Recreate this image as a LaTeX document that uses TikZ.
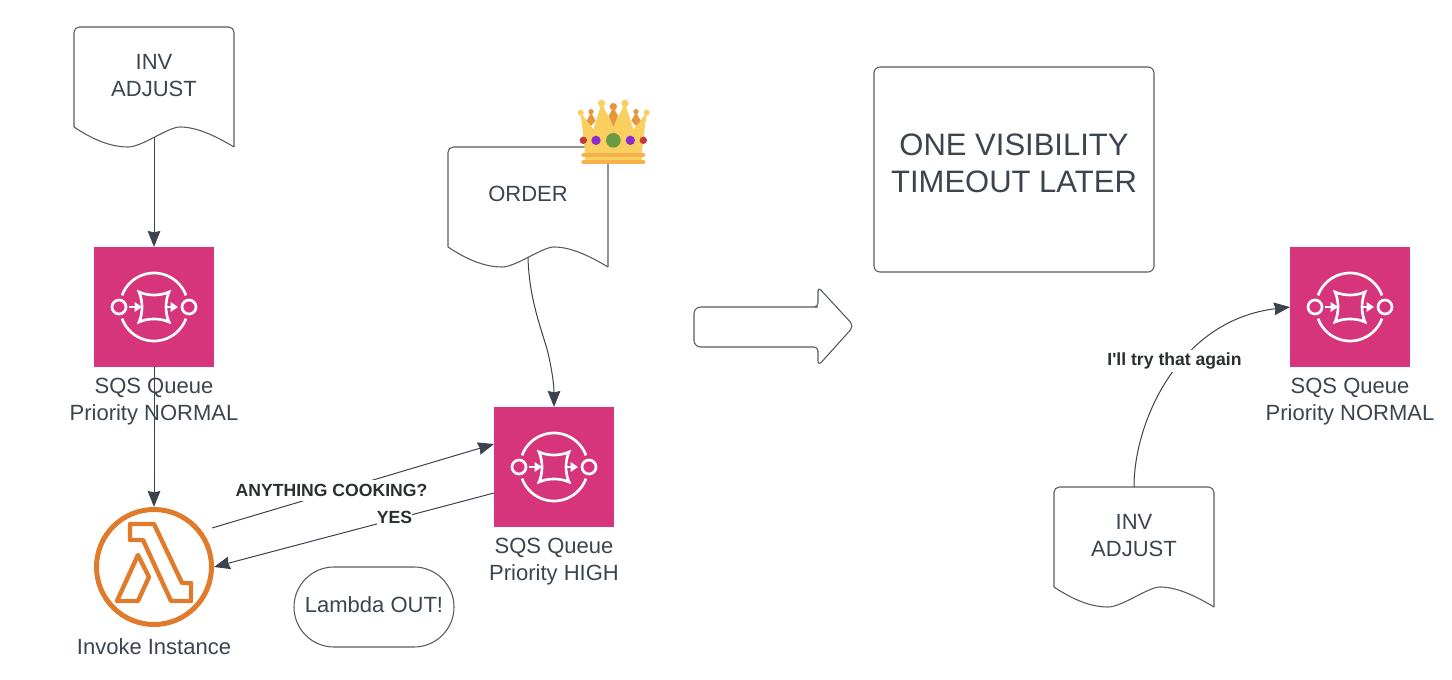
\documentclass[tikz,border=0pt]{standalone}
\usepackage{fontspec}
\setmainfont{Liberation Sans}
\newfontfamily\tagfont{Liberation Sans}
\usetikzlibrary{arrows.meta,calc}
\definecolor{ink}{HTML}{3A434E}
\definecolor{txt}{HTML}{3B4550}
\definecolor{boldtxt}{HTML}{2B2E33}
\definecolor{edge}{HTML}{555B63}
\definecolor{sqs}{HTML}{D6357B}
\definecolor{lam}{HTML}{E07B2C}
\definecolor{cy}{HTML}{F9CF5F}
\definecolor{co}{HTML}{E8963A}
\definecolor{cb}{HTML}{F6B14C}
\definecolor{cr}{HTML}{C8363F}
\definecolor{cp}{HTML}{8E2BD0}
\definecolor{cg}{HTML}{6A9A42}
\tikzset{
  x=0.75pt,y=-0.75pt,
  shape line/.style={draw=edge,line width=0.8pt,line join=round},
  conn/.style={draw=ink,line width=0.75pt,-{Stealth[length=12pt,width=9.5pt,inset=1pt]}},
  label/.style={font=\fontsize{16.5pt}{20.25pt}\selectfont,text=txt,align=center,inner sep=0pt},
  title/.style={font=\fontsize{23.25pt}{27.75pt}\selectfont,text=txt,align=center,inner sep=0pt},
  tag/.style={font=\tagfont\fontsize{13.2pt}{16pt}\selectfont\bfseries,text=boldtxt,fill=white,inner sep=0pt,minimum height=16pt},
  sqsbox/.style={fill=sqs,minimum size=90pt,inner sep=0pt,outer sep=0pt},
  docpic/.pic={
    \draw[shape line,rounded corners=4pt]
      (0,100) -- (0,0) -- (160,0) -- (160,120);
    \draw[shape line] (160,120) .. controls (140,108) and (122,100) .. (106,100)
      .. controls (94,100) and (68,120) .. (54,120)
      .. controls (36,120) and (18,112) .. (0,100);
    \coordinate (-wave) at (80,110);
    \coordinate (-top) at (80,0);
  },
  sqsicon/.pic={
    \begin{scope}[draw=white,line width=2pt]
      \draw (20:34) arc[start angle=20,end angle=160,x radius=34,y radius=34];
      \draw (-20:34) arc[start angle=-20,end angle=-160,x radius=34,y radius=34];
      \draw (-35,0) circle[radius=7];
      \draw (35,0) circle[radius=7];
      \draw[line join=miter,miter limit=3] (-15,-15) .. controls (-6,-11) and (6,-11) .. (15,-15)
        .. controls (11,-6) and (11,6) .. (15,15)
        .. controls (6,11) and (-6,11) .. (-15,15)
        .. controls (-11,6) and (-11,-6) .. (-15,-15) -- cycle;
      \draw[line width=1.9pt,-{Stealth[length=5.5pt,width=7pt,inset=0pt]}] (-25,0) -- (-12,0);
      \draw[line width=1.9pt,-{Stealth[length=5.5pt,width=7pt,inset=0pt]}] (12,0) -- (24,0);
    \end{scope}
  }
}
\begin{document}
\begin{tikzpicture}
\fill[white] (0,0) rectangle (1452,680);
\useasboundingbox (0,0) rectangle (1452,680);

% documents
\pic (d1) at (74,27) {docpic};
\pic (d2) at (448,147) {docpic};
\pic (d3) at (1054,487) {docpic};
\node[label] (d1t) at (154,75.5) {INV\\ADJUST};
\node[label] (d2t) at (528,194) {ORDER};
\node[label] (d3t) at (1134,535.5) {INV\\ADJUST};

% queues
\node[sqsbox] (q1) at (154,307) {};
\node[sqsbox] (q2) at (554,467) {};
\node[sqsbox] (q3) at (1350,307) {};
\pic at (q1) {sqsicon};
\pic at (q2) {sqsicon};
\pic at (q3) {sqsicon};
\node[label] (q1t) at (154,401.5) {SQS Queue\\Priority NORMAL};
\node[label] (q2t) at (554,561.5) {SQS Queue\\Priority HIGH};
\node[label] (q3t) at (1350,401.5) {SQS Queue\\Priority NORMAL};

% lambda
\node[circle,draw=lam,line width=3.75pt,minimum size=86.25pt,inner sep=0pt] (fn) at (154,567) {};
\draw[lam,line width=3.3pt,line join=round]
  (130,524) -- (154,524) -- (182,583) -- (191,583) -- (191,601) -- (171,601) -- (143,540) -- (130,540) -- cycle;
\draw[lam,line width=3.3pt,line join=round]
  (138,555) -- (149,577) -- (138,601) -- (117,601) -- cycle;
\node[label] (fnt) at (154,647) {Invoke Instance};

% other shapes
\node[shape line,rounded corners=30pt,minimum width=120pt,minimum height=60pt,inner sep=0pt,draw=edge] (out) at (374,607) {};
\node[label] (outt) at (374,605) {Lambda OUT!};
\node[shape line,rounded corners=4.5pt,minimum width=210pt,minimum height=153.75pt,inner sep=0pt,draw=edge] (later) at (1014,169.5) {};
\node[title] (latert) at (1014,163.5) {ONE VISIBILITY\\TIMEOUT LATER};
\draw[shape line,rounded corners=5pt] (694,307) -- (811,307) [rounded corners=3pt] -- (818,307) -- (818,287) [rounded corners=4pt] -- (854,326) -- (818,366) [rounded corners=3pt] -- (818,347) [rounded corners=5pt] -- (694,347) -- cycle;

% connectors
\draw[conn] (d1-wave) -- (q1.north);
\draw[conn] (q1.south) -- (fn.north);
\draw[conn] (d2-wave) .. controls (529,300) and (542,330) .. (548,353) .. controls (552,370) and (554,385) .. (q2.north);
\coordinate (askstart) at (212,528);
\coordinate (askend) at ($(q2.west)+(0,-23)$);
\coordinate (yesstart) at ($(q2.west)+(0,26)$);
\draw[conn] (askstart) -- (askend);
\draw[conn] (yesstart) -- (fn.east);
\draw[conn] (d3-top) .. controls (1134,420) and (1180,320) .. (q3.west);

% connector labels
\node[tag] (ask) at (331.5,490.5) {ANYTHING COOKING?};
\node[tag] (yes) at (394.5,517.5) {YES};
\node[tag] (retry) at (1174.5,361) {I'll try that again};

% crown
\begin{scope}[shift={(560,90)},x=0.25pt,y=-0.25pt]
  \fill[cy] (62,68) -- (100,118) -- (125,40) -- (160,108) -- (195,40) -- (220,118) -- (260,68) -- (245,190) -- (75,190) -- cycle;
  \fill[cy] (75,190) rectangle (245,216);
  \fill[co] (80,92) -- (93,68) -- (107,92) -- (93,108) -- cycle;
  \fill[co] (146,78) -- (160,52) -- (174,78) -- (160,110) -- cycle;
  \fill[co] (214,92) -- (228,68) -- (242,92) -- (228,108) -- cycle;
  \fill[co] (93,65) circle[radius=8];
  \fill[co] (160,50) circle[radius=11];
  \fill[co] (228,65) circle[radius=8];
  \fill[cy] (62,68) circle[radius=9];
  \fill[cy] (125,40) circle[radius=11];
  \fill[cy] (195,40) circle[radius=11];
  \fill[cy] (260,68) circle[radius=9];
  \fill[cr] (70,151) circle[radius=11];
  \fill[cp] (108,151) circle[radius=14];
  \fill[cg] (160,151) circle[radius=22];
  \fill[cp] (211,151) circle[radius=14];
  \fill[cr] (250,151) circle[radius=11];
  \draw[cb,line width=3pt,line cap=round] (70,196) -- (250,196);
  \draw[cb,line width=3pt,line cap=round] (70,217) -- (250,217);
\end{scope}
\end{tikzpicture}
\end{document}
